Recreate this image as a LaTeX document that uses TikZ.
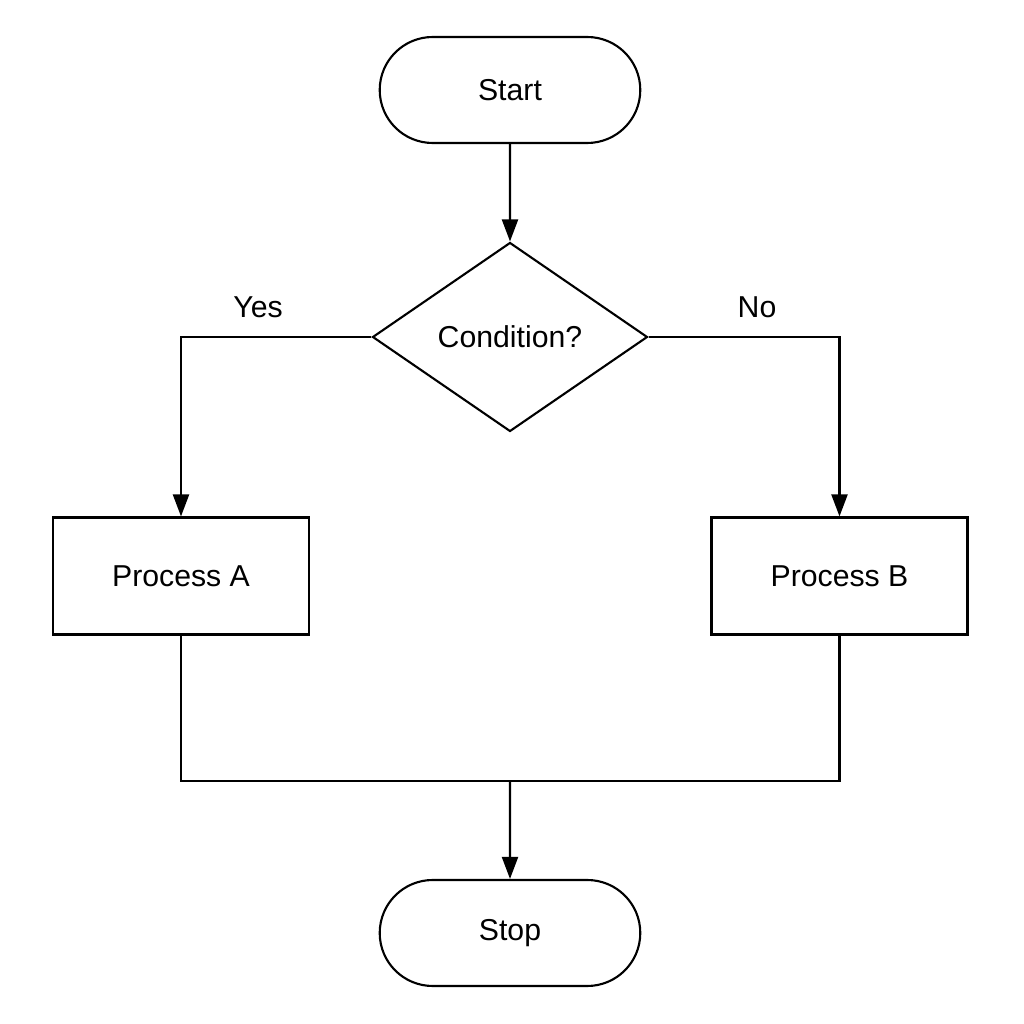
\documentclass[tikz,border=0pt]{standalone}
\usepackage{fontspec}
\setmainfont{Liberation Sans}
\usetikzlibrary{shapes.geometric,shapes.misc,arrows.meta}
\tikzset{
    term/.style={draw,rounded rectangle,minimum width=2.84cm,minimum height=1.06cm},
    proc/.style={draw,rectangle,minimum width=2.56cm,minimum height=1.17cm},
    cond/.style={draw,diamond,minimum width=2.75cm,minimum height=1.89cm,inner sep=0pt},
    flow/.style={-{Triangle[length=2.2mm,width=1.6mm]}}
}
\begin{document}
\begin{tikzpicture}[line width=0.6pt,font=\fontsize{8.6}{10.5}\selectfont]
                \useasboundingbox (0,0) rectangle (10.24,10.24);
                \node[term] (start) at (5.10,9.34) {Start};
                \node[cond] (cnd) at (5.10,6.87) {Condition?};
                \node[proc] (pa) at (1.81,4.48) {Process A};
                \node[proc] (pb) at (8.395,4.48) {Process B};
                \node[term] (stop) at (5.10,0.91) {Stop};
                \coordinate (mrg) at (5.10,2.43);

                \node (yes) at (2.58,7.17) {Yes};
                \node (no) at (7.57,7.17) {No};

                \draw[flow] (start) -- (cnd);
                \draw[flow] (cnd.west) -| (pa.north);
                \draw[flow] (cnd.east) -| (pb.north);
                \draw (pa.south) |- (mrg) -| (pb.south);
                \draw[flow] (mrg) -- (stop);
            \end{tikzpicture}
\end{document}
